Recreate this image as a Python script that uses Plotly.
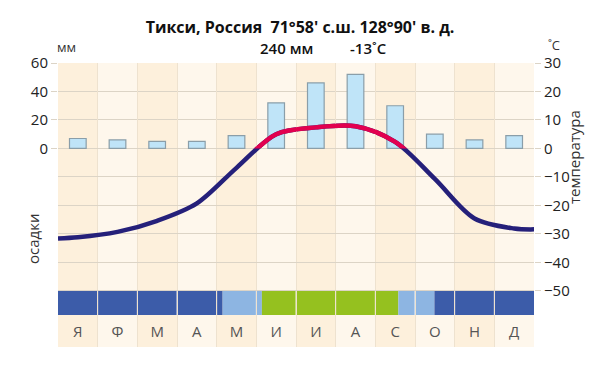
import plotly.graph_objects as go

# ---------------- data ----------------
months = ["Я", "Ф", "М", "А", "М", "И", "И", "А", "С", "О", "Н", "Д"]
precip_mm = [7, 6, 5, 5, 9, 32, 46, 52, 30, 10, 6, 9]
# temperature curve: plot-edge start, 12 month centres, plot-edge end
temp_x = [-0.5, 0, 1, 2, 3, 4, 5, 6, 7, 8, 9, 10, 11, 11.5]
temp_c = [-31.6, -31.2, -29.3, -25.4, -19.3, -6.8, 5.0, 7.4, 7.8, 2.3, -10.7, -24.6, -28.1, -28.4]
# seasons strip (in month units, month i spans i-0.5 .. i+0.5)
season_start = [-0.5, 3.65, 4.64, 8.08, 8.99]
season_end = [3.65, 4.64, 8.08, 8.99, 11.5]
season_kind = ["snow", "thaw", "veg", "thaw", "snow"]
precip_ticks = [0, 20, 40, 60]
temp_ticks = [-50, -40, -30, -20, -10, 0, 10, 20, 30]
title_text = "Тикси, Россия \u00a071°58' с.ш. 128°90' в. д."
annual_precip = "240 мм"
annual_temp = "-13˚C"

# ---------------- style ----------------
FONT = "Open Sans"
T_MIN, T_MAX = -69.7, 30.0
P_MIN, P_MAX = 2 * T_MIN, 2 * T_MAX
STRIP_TOP, STRIP_BOT = -50.0, -58.5
LABEL_Y = -64.9
season_colors = {"snow": "#3c5ca9", "thaw": "#8db5e2", "veg": "#95c11f"}
col_fill = ["#fdf0dc", "#fef7ec"]
grid_col = "#dcd4c6"
vgrid_col = "#eee2cf"

fig = go.Figure()

# precipitation bars (left axis)
fig.add_trace(go.Bar(
    x=list(range(12)), y=precip_mm, yaxis="y", width=0.42,
    marker=dict(color="#bfe4f8", line=dict(color="#8a9ea9", width=1.2)),
    showlegend=False, hoverinfo="skip",
))
# full temperature line in navy (right axis)
fig.add_trace(go.Scatter(
    x=temp_x, y=temp_c, yaxis="y2", mode="lines",
    line=dict(color="#25207a", width=4.5, shape="spline", smoothing=0.9),
    showlegend=False, hoverinfo="skip",
))
# positive part in crimson: same curve on an axis whose domain starts at 0 °C (clipped)
fig.add_trace(go.Scatter(
    x=temp_x, y=temp_c, yaxis="y3", mode="lines",
    line=dict(color="#e2004f", width=4.5, shape="spline", smoothing=0.9),
    showlegend=False, hoverinfo="skip",
))
# month labels
fig.add_trace(go.Scatter(
    x=list(range(12)), y=[LABEL_Y] * 12, yaxis="y2", mode="text", text=months,
    textfont=dict(family=FONT, size=15, color="#555555"),
    showlegend=False, hoverinfo="skip",
))

shapes = []
for i in range(12):
    shapes.append(dict(type="rect", xref="x", yref="y2", x0=i - 0.5, x1=i + 0.5,
                       y0=T_MIN, y1=T_MAX, fillcolor=col_fill[i % 2],
                       line=dict(width=0), layer="below"))
for s, e, k in zip(season_start, season_end, season_kind):
    shapes.append(dict(type="rect", xref="x", yref="y2", x0=s, x1=e,
                       y0=STRIP_BOT, y1=STRIP_TOP, fillcolor=season_colors[k],
                       line=dict(width=0), layer="below"))
for i in range(11):
    shapes.append(dict(type="line", xref="x", yref="y2", x0=i + 0.5, x1=i + 0.5,
                       y0=STRIP_BOT, y1=STRIP_TOP,
                       line=dict(color="rgba(255,255,255,0.85)", width=1), layer="below"))

d0 = (0 - T_MIN) / (T_MAX - T_MIN)

fig.update_layout(
    width=600, height=373,
    margin=dict(l=58, r=66, t=63, b=26),
    paper_bgcolor="white", plot_bgcolor="rgba(0,0,0,0)",
    font=dict(family=FONT, size=15, color="#333333"),
    bargap=0,
    shapes=shapes,
    title=dict(text=title_text, x=0.5, xanchor="center", y=1 - 27 / 373, yanchor="middle",
               font=dict(family=FONT, size=16, color="#111111", weight=700)),
    xaxis=dict(range=[-0.5, 11.5], tick0=-0.5, dtick=1, showgrid=True, gridcolor=vgrid_col,
               gridwidth=1, showticklabels=False, ticks="", zeroline=False, showline=False,
               fixedrange=True, automargin=False),
    yaxis=dict(range=[P_MIN, P_MAX], tickvals=precip_ticks, showgrid=False, zeroline=False,
               ticks="outside", ticklen=6, tickcolor=grid_col, showline=False, automargin=False,
               tickfont=dict(size=15, color="#222222")),
    yaxis2=dict(range=[T_MIN, T_MAX], tickvals=temp_ticks, overlaying="y", side="right",
                showgrid=True, gridcolor=grid_col, gridwidth=1, zeroline=False, automargin=False,
                ticks="outside", ticklen=6, tickcolor=grid_col, showline=False,
                tickfont=dict(size=15, color="#222222")),
    yaxis3=dict(range=[0, T_MAX], domain=[d0, 1], anchor="x", visible=False,
                showgrid=False, zeroline=False),
)

annos = [
    dict(text="мм", x=(66 - 58) / 476, y=(347 - 47) / 284),
    dict(text="˚C", x=(554 - 58) / 476, y=(347 - 45) / 284),
    dict(text=annual_precip, x=(286 - 58) / 476, y=(347 - 48) / 284,
         font=dict(family=FONT, size=15, color="#111111", weight=600)),
    dict(text=annual_temp, x=(368 - 58) / 476, y=(347 - 48) / 284,
         font=dict(family=FONT, size=15, color="#111111", weight=600)),
    dict(text="осадки", x=(33 - 58) / 476, y=(347 - 239) / 284, textangle=-90,
         font=dict(family=FONT, size=15, color="#333333")),
    dict(text="температура", x=(574 - 58) / 476, y=(347 - 157) / 284, textangle=-90,
         font=dict(family=FONT, size=15, color="#333333")),
]
for a in annos:
    a.setdefault("font", dict(family=FONT, size=13, color="#333333"))
    fig.add_annotation(xref="paper", yref="paper", showarrow=False,
                       xanchor="center", yanchor="middle", **a)

fig.write_html("out.html", config={"displayModeBar": False, "staticPlot": True},
               post_script="document.body.style.margin='0';document.body.style.overflow='hidden';")
